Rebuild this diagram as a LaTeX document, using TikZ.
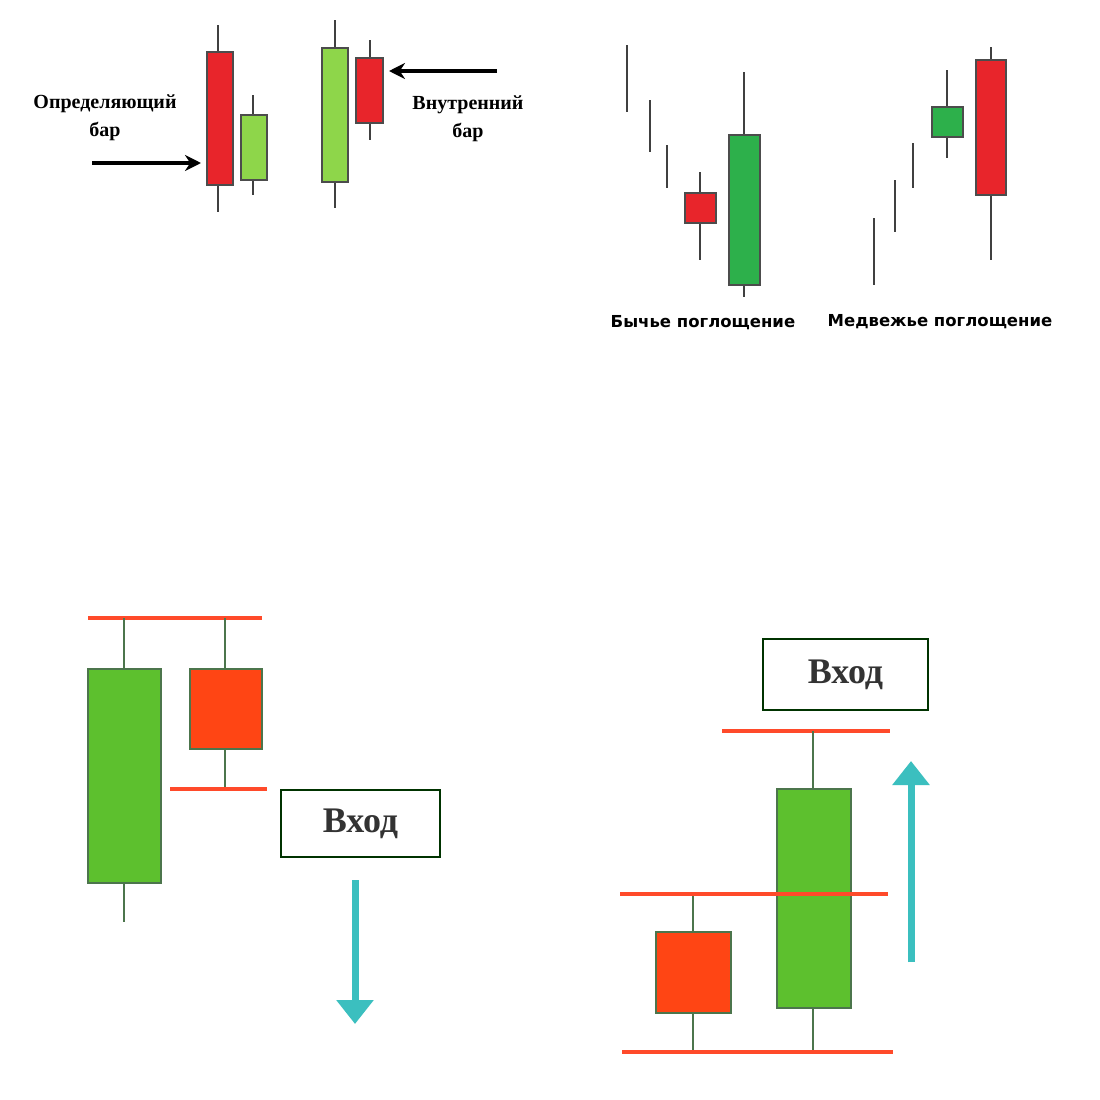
\documentclass[tikz,border=0pt]{standalone}
\usepackage{fontspec}
\setmainfont{Liberation Serif}
\newfontfamily\lsans{DejaVu Sans}
\usetikzlibrary{arrows.meta}
\begin{document}
\begin{tikzpicture}[x=1pt,y=-1pt,
 wk/.style={line width=2.2pt,draw=black!75},
 bd/.style={draw=black!70,line width=1.8pt},
 rl/.style={draw=lineR,line width=4pt},
 bwk/.style={line width=2.6pt,draw=black!60!green!40!gray},
 bbd/.style={draw=black!60!green!40!gray,line width=2.6pt},
 entry/.style={draw=green!20!black,line width=2.2pt,fill=white,minimum width=159pt,minimum height=67pt,font=\bfseries\fontsize{36}{38}\selectfont,text=black!80},
 ta/.style={draw=tealc,line width=7pt,-{Triangle[length=24pt,width=36pt]}},
 ba/.style={line width=4pt,-{Stealth[length=16pt,width=16pt]}},
 lbl/.style={font=\bfseries\fontsize{20}{28}\selectfont,align=center},
 slbl/.style={font=\lsans\bfseries\fontsize{16.5}{18}\selectfont}]
\definecolor{redc}{HTML}{E8252B}
\definecolor{lgreen}{HTML}{8ED64A}
\definecolor{dgreen}{HTML}{2DB04B}
\definecolor{bgreen}{HTML}{5DC02E}
\definecolor{ored}{HTML}{FF4514}
\definecolor{lineR}{HTML}{FF4A2A}
\definecolor{tealc}{HTML}{3BBFBF}
\fill[white] (0,0) rectangle (1100,1100);
% top-left
\draw[wk] (218,25)--(218,212); \draw[bd,fill=redc] (207,52) rectangle (233,185);
\draw[wk] (253,95)--(253,195); \draw[bd,fill=lgreen] (241,115) rectangle (267,180);
\draw[wk] (335,20)--(335,208); \draw[bd,fill=lgreen] (322,48) rectangle (348,182);
\draw[wk] (370,40)--(370,140); \draw[bd,fill=redc] (356,58) rectangle (383,123);
\coordinate (a1) at (92,163); \coordinate (a1e) at (201,163);
\coordinate (a2) at (497,71); \coordinate (a2e) at (389,71);
\draw[ba] (a1)--(a1e); \draw[ba] (a2)--(a2e);
\node[lbl] (l1) at (105,118) {Определяющий\\бар};
\node[lbl] (l2) at (468,119) {Внутренний\\бар};
% top-right
\draw[wk] (627,45)--(627,112); \draw[wk] (650,100)--(650,152); \draw[wk] (667,145)--(667,188);
\draw[wk] (700,172)--(700,260); \draw[bd,fill=redc] (685,193) rectangle (716,223);
\draw[wk] (744,72)--(744,297); \draw[bd,fill=dgreen] (729,135) rectangle (760,285);
\draw[wk] (874,218)--(874,285); \draw[wk] (895,180)--(895,232); \draw[wk] (913,143)--(913,188);
\draw[wk] (947,70)--(947,158); \draw[bd,fill=dgreen] (932,107) rectangle (963,137);
\draw[wk] (991,47)--(991,260); \draw[bd,fill=redc] (976,60) rectangle (1006,195);
\node[slbl] (l3) at (703,323) {Бычье поглощение};
\node[slbl] (l4) at (940,322) {Медвежье поглощение};
% bottom-left
\draw[rl] (88,618)--(262,618);
\draw[bwk] (124,618)--(124,922); \draw[bbd,fill=bgreen] (88,669) rectangle (161,883);
\draw[bwk] (225,618)--(225,789); \draw[bbd,fill=ored] (190,669) rectangle (262,749);
\draw[rl] (170,789)--(267,789);
\node[entry] (e1) at (360.5,823.5) {Вход};
\coordinate (t1) at (355,880); \coordinate (t1e) at (355,1024);
\draw[ta] (t1)--(t1e);
% bottom-right
\node[entry,minimum width=165pt,minimum height=71pt] (e2) at (845.5,674.5) {Вход};
\draw[rl] (722,731)--(890,731);
\draw[bwk] (813,731)--(813,1052); \draw[bbd,fill=bgreen] (777,789) rectangle (851,1008);
\draw[bwk] (693,894)--(693,1052); \draw[bbd,fill=ored] (656,932) rectangle (731,1013);
\draw[rl] (620,894)--(888,894);
\draw[rl] (622,1052)--(893,1052);
\coordinate (t2) at (911,962); \coordinate (t2e) at (911,761);
\draw[ta] (t2)--(t2e);
\end{tikzpicture}
\end{document}
